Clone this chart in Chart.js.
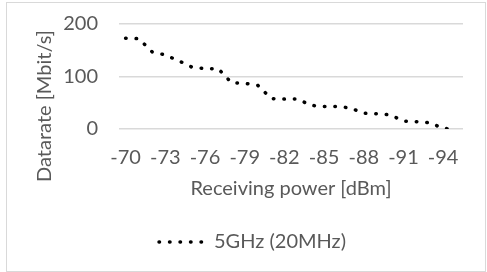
<!DOCTYPE html>
<html>
<head>
<meta charset="utf-8">
<script src="https://cdn.jsdelivr.net/npm/chart.js@4/dist/chart.umd.min.js"></script>
<style>
  html, body { margin: 0; padding: 0; background: #fff; }
  #wrap { width: 487px; height: 272px; }
</style>
</head>
<body>
<div id="wrap"><canvas id="lineChart"></canvas></div>
<script>
// Datos del grafico
const powerLabels = [
    "-70", "-71", "-72", "-73", "-74", "-75", "-76", "-77", "-78", "-79",
    "-80", "-81", "-82", "-83", "-84", "-85", "-86", "-87", "-88", "-89",
    "-90", "-91", "-92", "-93", "-94", "-95",
];
const datarate = [
    173, 172, 147, 141, 130, 118, 115, 115, 88, 87,
    83, 58, 57, 57, 45, 43, 43, 40, 30, 29,
    27, 15, 14, 12, 1, 0,
];
const yTicks = [0, 100, 200];
const seriesName = "5GHz (20MHz)";
const xTitle = "Receiving power [dBm]";
const yTitle = "Datarate [Mbit/s]";

const textColor = "#595959";
const gridColor = "#d9d9d9";
const font = { family: "Lato", size: 20 };
const dotDash = [0.5, 10];

// marco exterior, titulo del eje y y muestra punteada de la leyenda
const frame = {
    id: "frame",
    beforeDraw(chart) {
        const ctx = chart.ctx;
        ctx.save();
        ctx.fillStyle = "#fff";
        ctx.fillRect(0, 0, chart.width, chart.height);
        ctx.strokeStyle = gridColor;
        ctx.lineWidth = 1;
        ctx.strokeRect(6.5, 2.5, 479, 269);
        ctx.restore();
    },
    afterDraw(chart) {
        const ctx = chart.ctx;
        ctx.save();
        ctx.translate(45, 106);
        ctx.rotate(-Math.PI / 2);
        ctx.font = "20px Lato";
        ctx.fillStyle = textColor;
        ctx.textAlign = "center";
        ctx.textBaseline = "middle";
        ctx.fillText(yTitle, 0, 0);
        ctx.restore();

        const box = chart.legend.legendHitBoxes[0];
        const ds = chart.data.datasets[0];
        if (box) {
            const y = box.top + 10;
            ctx.save();
            ctx.strokeStyle = ds.borderColor;
            ctx.lineWidth = ds.borderWidth;
            ctx.lineCap = "round";
            ctx.setLineDash(dotDash);
            ctx.beginPath();
            ctx.moveTo(box.left, y);
            ctx.lineTo(box.left + 42.5, y);
            ctx.stroke();
            ctx.restore();
        }
    },
};

const lineChart = document.getElementById("lineChart").getContext("2d");

let chart = new Chart(lineChart, {
    type: "line",
    data: {
        labels: powerLabels,
        datasets: [
            {
                label: seriesName,
                data: datarate,
                borderColor: "#000",
                backgroundColor: "rgba(0,0,0,0)",
                borderWidth: 3.5,
                borderDash: dotDash,
                borderCapStyle: "round",
                pointRadius: 0,
                tension: 0,
            },
        ],
    },
    options: {
        responsive: true,
        maintainAspectRatio: false,
        animation: false,
        layout: {
            padding: { left: 42, right: 24, top: 24, bottom: 10 },
        },
        scales: {
            x: {
                offset: true,
                grid: { display: false, drawTicks: false },
                border: { display: false },
                ticks: {
                    autoSkip: false,
                    maxRotation: 0,
                    padding: 16.5,
                    color: textColor,
                    font: font,
                    callback: function (value, index) {
                        return index % 3 === 0 ? powerLabels[index] : "";
                    },
                },
                title: {
                    display: true,
                    text: xTitle,
                    color: textColor,
                    font: font,
                    padding: { top: 0, bottom: 21 },
                },
                afterFit: function (scale) {
                    scale.height = 93;
                },
            },
            y: {
                min: 0,
                max: 200,
                grid: {
                    color: gridColor,
                    lineWidth: 1.5,
                    drawTicks: true,
                    tickLength: 21,
                    tickColor: "rgba(0,0,0,0)",
                },
                border: { display: false },
                afterBuildTicks: function (scale) {
                    scale.ticks = yTicks.map((v) => ({ value: v }));
                },
                ticks: {
                    padding: 0,
                    color: textColor,
                    font: font,
                },
                afterFit: function (scale) {
                    scale.width = 77;
                },
            },
        },
        plugins: {
            legend: {
                position: "bottom",
                labels: {
                    boxWidth: 45,
                    boxHeight: 0,
                    color: textColor,
                    font: font,
                    padding: 10,
                    generateLabels: function (c) {
                        return Chart.defaults.plugins.legend.labels
                            .generateLabels(c)
                            .map((item) => Object.assign(item, {
                                fillStyle: "rgba(0,0,0,0)",
                                strokeStyle: "rgba(0,0,0,0)",
                                lineWidth: 0,
                            }));
                    },
                },
            },
            tooltip: { enabled: false },
        },
    },
    plugins: [frame],
});
</script>
</body>
</html>
